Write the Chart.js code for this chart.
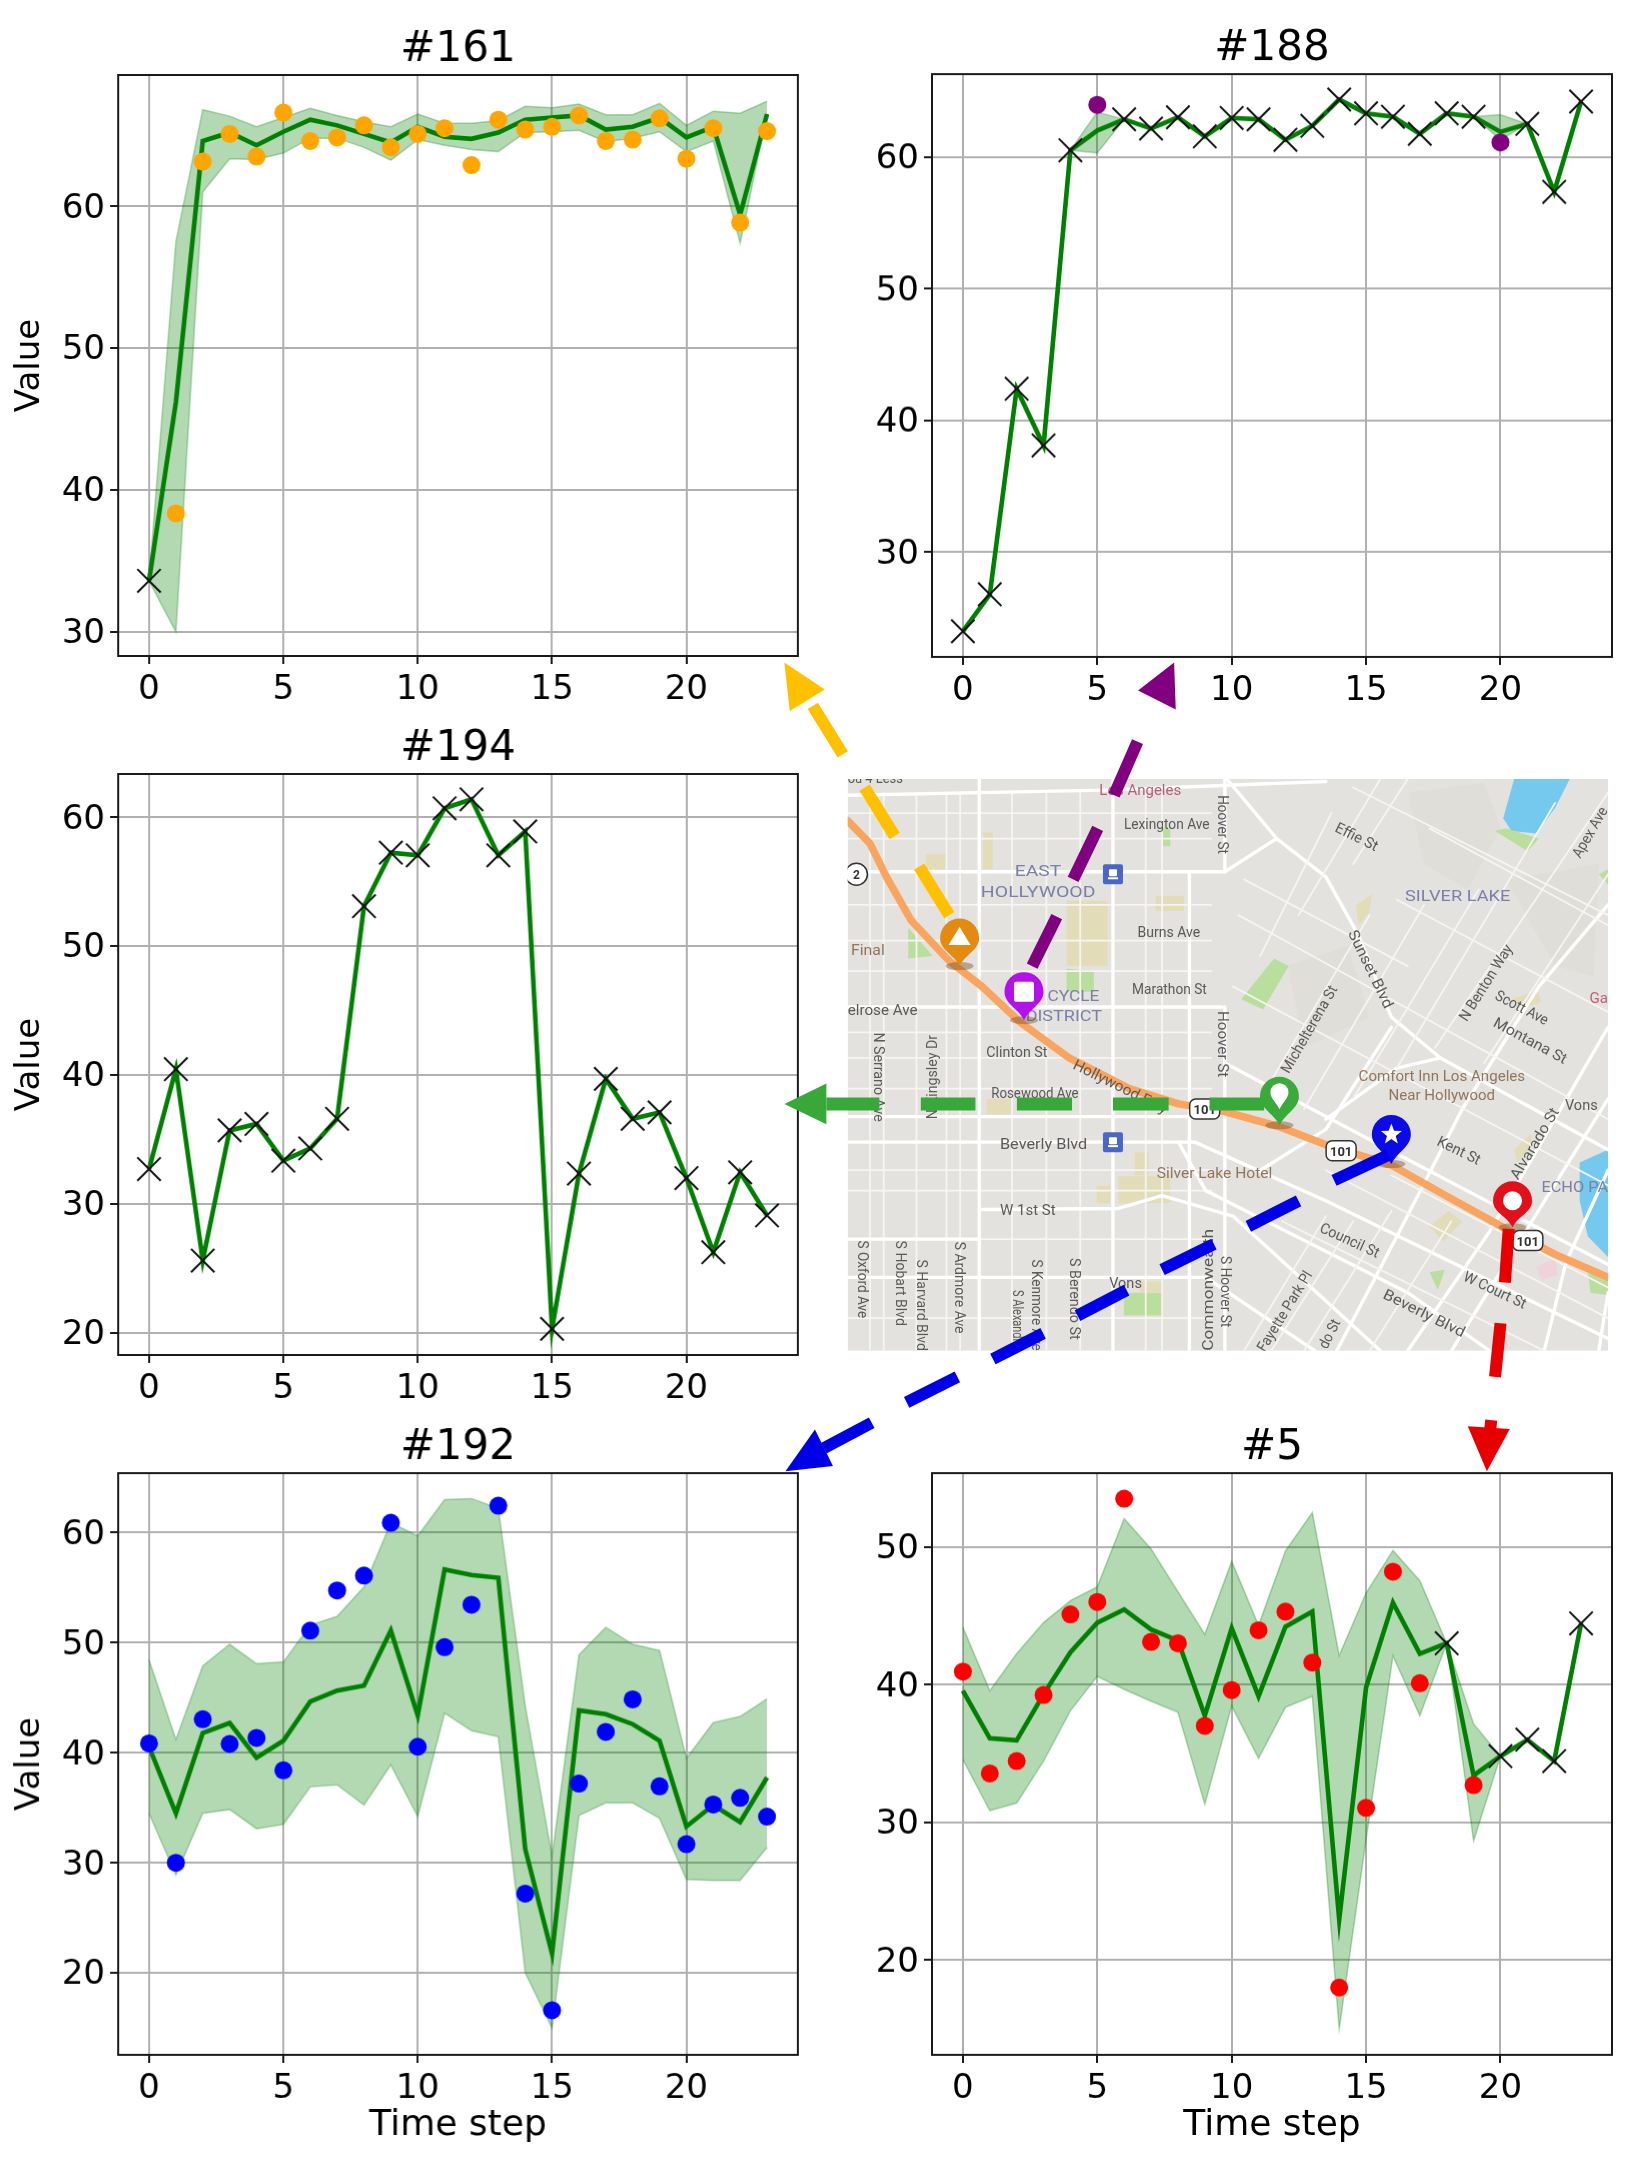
<!DOCTYPE html>
<html><head><meta charset="utf-8">
<style>
html,body{margin:0;padding:0;background:#fff;}
#page{position:relative;width:1636px;height:2167px;overflow:hidden;background:#fff;}
canvas{position:absolute;}
svg{position:absolute;left:0;top:0;}
</style>
<script src="https://cdn.jsdelivr.net/npm/chart.js@4/dist/chart.umd.min.js"></script>
</head><body><div id="page"></div>
<script>
const timeSteps=[0,1,2,3,4,5,6,7,8,9,10,11,12,13,14,15,16,17,18,19,20,21,22,23];
const xTickStep=5, yTickStep=10;
const titles=['#161','#188','#194','#192','#5'];
const xLabel='Time step', yLabel='Value';
const n=null;

const mean161=[33.6,46.2,64.6,65.2,64.3,65.25,66.1,65.7,65.1,64.5,65.6,64.9,64.75,65.2,66.1,66.25,66.4,65.4,65.6,66.25,64.85,65.6,59.4,66.5];
const upper161=[33.6,57.5,66.8,66.35,65.6,66.25,66.9,66.4,65.95,65.6,66.5,65.85,65.85,66.05,67.05,66.95,67.2,66.45,66.45,67.25,65.7,66.7,66.55,67.4];
const lower161=[33.6,30.0,61,63.35,63.3,63.75,64.8,64.8,64.15,63.25,64.7,64.3,64,63.85,65.2,65.25,65.35,64.55,64.8,65.25,63.85,64.6,57.4,66.5];
const dots161=[n,38.35,63.15,65.1,63.5,66.6,64.6,64.85,65.7,64.15,65.1,65.5,62.9,66.1,65.4,65.6,66.4,64.6,64.7,66.2,63.35,65.5,58.85,65.3];
const cross161=[33.6,n,n,n,n,n,n,n,n,n,n,n,n,n,n,n,n,n,n,n,n,n,n,n];

const mean188=[24.0,26.8,42.4,38.1,60.5,62,62.85,62.15,63,61.55,62.95,62.85,61.3,62.35,64.35,63.3,63.05,61.75,63.3,63.05,61.9,62.5,57.35,64.2];
const upper188=[24.0,26.8,42.4,38.1,60.5,63.4,62.85,62.15,63,61.55,62.95,62.85,61.3,62.35,64.35,63.3,63.05,61.75,63.3,63.05,63.2,62.5,57.35,64.2];
const lower188=[24.0,26.8,42.4,38.1,60.5,60.3,62.85,62.15,63,61.55,62.95,62.85,61.3,62.35,64.35,63.3,63.05,61.75,63.3,63.05,61.3,62.5,57.35,64.2];
const dots188=[n,n,n,n,n,63.95,n,n,n,n,n,n,n,n,n,n,n,n,n,n,61.1,n,n,n];
const cross188=[24.0,26.8,42.4,38.1,60.5,n,62.85,62.15,63,61.55,62.95,62.85,61.3,62.35,64.35,63.3,63.05,61.75,63.3,63.05,n,62.5,57.35,64.2];

const mean194=[32.7,40.45,25.6,35.7,36.2,33.35,34.3,36.6,53.1,57.25,57.05,60.7,61.4,57.05,58.9,20.3,32.35,39.7,36.6,37.1,32,26.25,32.45,29.1];
const cross194=mean194.slice();

const mean192=[40.55,34.5,41.8,42.7,39.55,41.1,44.65,45.65,46.1,51.1,43.4,56.65,56.15,55.9,31.25,21.75,43.85,43.5,42.6,41.1,33.3,35.25,33.7,37.75];
const upper192=[48.45,41.2,47.9,49.85,48.1,48.25,51.6,52.4,55.05,60.9,59.7,63,63.1,62.2,44.25,30.6,48.9,51.4,49.85,49.3,39.5,42.75,43.3,44.9];
const lower192=[34.5,28.9,34.5,34.85,33.1,33.5,36.9,37.1,35.25,38.9,34.2,43.6,42,41.45,20,15,34.3,35.45,35.45,34.05,28.5,28.4,28.4,31.4];
const dots192=[40.85,30,43.05,40.8,41.35,38.4,51.1,54.75,56.1,60.9,40.55,49.6,53.45,62.45,27.2,16.6,37.2,41.9,44.85,36.95,31.7,35.3,35.9,34.2];

const mean5=[39.55,36.1,35.95,39.3,42.35,44.5,45.45,44,43.2,37.75,44.1,39.15,44.2,45.3,22.95,39.8,45.95,42.25,43,33.4,34.8,36,34.45,44.45];
const upper5=[44.15,39.55,42.25,44.5,46.1,47.1,52.05,49.85,46.75,43.65,48.95,44.3,49.7,52.5,42.1,46.65,49.75,47.55,43,37.15,34.8,36,34.45,44.45];
const lower5=[34.55,30.85,31.4,34.45,38.1,40.6,39.65,38.8,38,31.3,38.45,34.65,38.35,39.15,15,28.75,42.1,37.75,43,28.65,34.8,36,34.45,44.45];
const dots5=[40.95,33.55,34.45,39.25,45.1,46,53.5,43.1,43,37,39.6,43.95,45.3,41.6,18,31.05,48.2,40.1,n,32.7,n,n,n,n];
const cross5=[n,n,n,n,n,n,n,n,n,n,n,n,n,n,n,n,n,n,43,n,34.8,36,34.45,44.45];

const FONT='"DejaVu Sans"';
const pts=a=>timeSteps.map((x,i)=>({x,y:a[i]}));
const boxPlugin={id:'box',afterDraw(c){const a=c.chartArea,g=c.ctx;g.save();g.strokeStyle='#1a1a1a';g.lineWidth=2;g.strokeRect(a.left,a.top,a.right-a.left,a.bottom-a.top);g.restore();}};

function panel(o){
  const yW=o.yTitle?118:100, titleH=54, xH=o.xTitle?92:60;
  const W=2*yW+(o.R-o.L), H=titleH+(o.B-o.T)+xH;
  const cv=document.createElement('canvas');
  cv.width=W;cv.height=H;cv.style.left=(o.L-yW)+'px';cv.style.top=(o.T-titleH)+'px';cv.style.width=W+'px';cv.style.height=H+'px';
  document.getElementById('page').appendChild(cv);
  const ds=[];
  if(o.upper){
    ds.push({data:pts(o.upper),borderColor:'rgba(0,128,0,0.3)',borderWidth:1.5,backgroundColor:'rgba(0,128,0,0.3)',fill:'+1',pointRadius:0,order:5,tension:0});
    ds.push({data:pts(o.lower),borderColor:'rgba(0,128,0,0.3)',borderWidth:1.5,fill:false,pointRadius:0,order:6,tension:0});
  }
  ds.push({data:pts(o.mean),borderColor:'#008000',borderWidth:4.6,fill:false,pointRadius:0,order:3,tension:0});
  if(o.cross)ds.push({data:pts(o.cross),showLine:false,pointStyle:'crossRot',pointRadius:16.5,pointBorderColor:'#111',pointBorderWidth:2,pointBackgroundColor:'transparent',order:1});
  if(o.dots)ds.push({data:pts(o.dots),showLine:false,pointStyle:'circle',pointRadius:o.r||9,pointBorderWidth:0,pointBackgroundColor:o.color,order:0});
  new Chart(cv,{type:'line',data:{datasets:ds},plugins:[boxPlugin],options:{
    responsive:false,animation:false,devicePixelRatio:1,layout:{padding:0},
    plugins:{legend:{display:false},tooltip:{enabled:false},
      title:{display:true,text:o.title,color:'#000',font:{family:FONT,size:42,weight:'normal',lineHeight:48/42},padding:{top:5,bottom:1}}},
    scales:{
      x:{type:'linear',min:-1.15,max:24.15,afterFit:s=>{s.height=xH;},
        grid:{color:'#b0b0b0',lineWidth:2,tickColor:'#1a1a1a',tickWidth:2,tickLength:8},border:{display:false},
        ticks:{stepSize:xTickStep,includeBounds:false,maxRotation:0,color:'#000',padding:6,font:{family:FONT,size:34},callback:v=>String(v)},
        title:{display:!!o.xTitle,text:xLabel,color:'#000',font:{family:FONT,size:36,lineHeight:1.2},padding:{top:0,bottom:0}}},
      y:{type:'linear',min:o.min,max:o.max,afterFit:s=>{s.width=yW;},
        grid:{color:'#b0b0b0',lineWidth:2,tickColor:'#1a1a1a',tickWidth:2,tickLength:8},border:{display:false},
        ticks:{stepSize:yTickStep,includeBounds:false,labelOffset:2.5,color:'#000',padding:5,font:{family:FONT,size:34},callback:v=>String(v)},
        title:{display:!!o.yTitle,text:yLabel,color:'#000',font:{family:FONT,size:34,lineHeight:1.2},padding:{top:10,bottom:0}}},
      yRightSpacer:{type:'linear',position:'right',afterFit:s=>{s.width=yW;},
        grid:{display:false,drawTicks:false},border:{display:false},ticks:{display:false},title:{display:false}}
    }}});
}
const colL=[118,797.6], colR=[932,1612];
panel({title:titles[0],L:colL[0],R:colL[1],T:75,B:656.3,min:28.3,max:69.25,mean:mean161,upper:upper161,lower:lower161,dots:dots161,cross:cross161,color:'#ffa500',yTitle:true});
panel({title:titles[1],L:colR[0],R:colR[1],T:74.4,B:656.6,min:22.05,max:66.28,mean:mean188,upper:upper188,lower:lower188,dots:dots188,cross:cross188,color:'#800080'});
panel({title:titles[2],L:colL[0],R:colL[1],T:773.9,B:1355.5,min:18.27,max:63.36,mean:mean194,cross:cross194,yTitle:true});
panel({title:titles[3],L:colL[0],R:colL[1],T:1472.9,B:2054.6,min:12.55,max:65.41,mean:mean192,upper:upper192,lower:lower192,dots:dots192,color:'#0000ff',yTitle:true,xTitle:true});
panel({title:titles[4],L:colR[0],R:colR[1],T:1472.9,B:2054.6,min:13.11,max:55.36,mean:mean5,upper:upper5,lower:lower5,dots:dots5,cross:cross5,color:'#ff0000',xTitle:true});

/* ---- decorative map and arrows (an illustration, not chart data) ---- */
const PX=x=>780+x/1.832, PY=y=>660+y/1.96;
const NS='http://www.w3.org/2000/svg';
const svg=document.createElementNS(NS,'svg');
svg.setAttribute('width',1636);svg.setAttribute('height',2167);
document.getElementById('page').appendChild(svg);
function el(tag,attrs,parent,txt){const e=document.createElementNS(NS,tag);for(const k in attrs)e.setAttribute(k,attrs[k]);if(txt!=null)e.textContent=txt;(parent||svg).appendChild(e);return e;}
const defs=el('defs',{});
const cp=el('clipPath',{id:'mapclip'},defs);
el('rect',{x:PX(124),y:PY(233),width:PX(1517)-PX(124),height:PY(1354)-PY(233)},cp);
const map=el('g',{'clip-path':'url(#mapclip)'});
el('rect',{x:PX(124),y:PY(233),width:PX(1517)-PX(124),height:PY(1354)-PY(233),fill:'#e4e2de'},map);
const poly=(a,fill,p)=>el('polygon',{points:a.map(q=>PX(q[0])+','+PY(q[1])).join(' '),fill},p||map);
const line=(a,w,col,p)=>el('polyline',{points:a.map(q=>PX(q[0])+','+PY(q[1])).join(' '),fill:'none',stroke:col,'stroke-width':w,'stroke-linejoin':'round','stroke-linecap':'round'},p||map);
// hills
[[[1150,260],[1290,240],[1320,330],[1260,450],[1180,400]],[[1330,430],[1500,400],[1490,620],[1420,600]],[[930,600],[1040,560],[1080,700],[960,760]]].forEach(a=>poly(a,'#e0ded8'));
// water
poly([[1345,233],[1447,233],[1420,290],[1385,340],[1340,335],[1325,310]],'#76c9ee');
poly([[1465,985],[1517,960],[1517,1170],[1480,1130],[1465,1060]],'#76c9ee');
// parks
[[[235,525],[280,580],[235,585]],[[525,605],[575,610],[575,650],[525,650]],[[845,665],[905,585],[932,600],[885,685]],[[1190,1200],[1218,1195],[1205,1235]],[[630,1240],[700,1240],[700,1285],[630,1285]],[[1310,335],[1330,330],[1390,350],[1370,375]],[[1480,1200],[1517,1215],[1517,1245],[1485,1240]],[[700,330],[715,330],[715,365],[700,365]],[[1500,420],[1517,410],[1517,440]]].forEach(a=>poly(a,'#b9de9e'));
// beige blocks
[[[525,472],[600,472],[600,600],[525,600]],[[268,380],[305,380],[305,410],[268,410]],[[372,338],[390,338],[390,410],[372,410]],[[688,462],[740,462],[740,492],[688,492]],[[378,860],[425,860],[425,890],[378,890]],[[620,1012],[715,1012],[715,1065],[620,1065]],[[1055,480],[1085,458],[1080,495],[1060,520]],[[1190,1110],[1225,1080],[1250,1100],[1215,1140]],[[1345,960],[1375,928],[1378,950],[1350,985]],[[1340,665],[1388,648],[1395,670],[1360,685]],[[580,1030],[605,1030],[605,1065],[580,1065]],[[650,965],[675,965],[675,1010],[650,1010]],[[660,1218],[700,1218],[700,1240],[660,1240]]].forEach(a=>poly(a,'#e3dcb8'));
poly([[1385,1190],[1420,1170],[1425,1205],[1395,1215]],'#efd3dc');
// minor streets
const vMinor=[165,190,250,305,330,425,488,550,670,700];
const hMinor=[300,350,480,550,610,730,780,840,1000,1040,1135,1290];
vMinor.forEach(x=>line([[x,260],[x,1354]],1.8,'#f6f5f2'));
hMinor.forEach(y=>line([[124,y],[790,y]],1.8,'#f6f5f2'));
// main streets
const mainStreets=[
 [[124,265],[600,255],[1000,238]],[[124,415],[815,415]],[[124,680],[810,680]],[[124,895],[760,895]],[[124,945],[760,945]],
 [[370,1077],[620,1075],[700,1050],[830,1090],[1100,1354]],[[124,1135],[365,1135]],[[124,1210],[780,1210],[980,1354]],
 [[365,233],[365,1354]],[[610,233],[610,1354]],[[750,415],[750,1354]],[[815,233],[815,415]],[[815,680],[815,1354]],
 [[815,415],[910,350],[1000,425],[1060,540],[1120,700],[1210,780],[1517,960]],[[820,235],[910,350]],
 [[815,790],[1080,940],[1517,1185]],[[760,945],[1000,1060],[1517,1330]],[[730,945],[780,1040],[1150,1240],[1300,1354]],
 [[1020,1354],[1130,1130],[1250,880],[1390,640],[1517,480]],[[1150,1354],[1300,1120],[1517,720]],[[1230,1354],[1360,1130],[1517,860]],
 [[880,1000],[1000,920],[1120,720]],[[1000,900],[1130,800],[1210,780]],[[1400,1354],[1440,1180],[1517,1000]],[[1500,1354],[1517,1240]]];
mainStreets.forEach(a=>line(a,3.4,'#ffffff'));
// diagonal minor streets
const diagDown=[[830,640,1517,1030],[840,500,1517,900],[850,430,1150,600],[1130,470,1517,690],[1190,330,1517,520],[1050,250,1517,500],[1000,1000,1517,1290],[920,1100,1400,1354],[1120,1010,1517,1230]];
const diagUp=[[880,860,1080,500],[960,880,1180,480],[1050,860,1280,450],[1130,800,1420,280],[1200,760,1517,260],[1290,790,1517,420],[900,1354,1050,1100],[960,1354,1120,1080],[1080,1354,1230,1100],[850,1354,1000,1090],[880,580,1010,300],[950,500,1100,233],[1050,400,1150,233]];
diagDown.concat(diagUp).forEach(s=>line([[s[0],s[1]],[s[2],s[3]]],1.8,'#f6f5f2'));
// highway
line([[124,315],[165,360],[195,425],[240,510],[310,590],[370,640],[440,710],[530,780],[640,840],[730,870],[815,885],[915,915],[1000,950],[1120,990],[1220,1050],[1330,1115],[1420,1165],[1517,1210]],7.5,'#f9a560');
// labels: text, start x,y, end x,y, colour
const gr='#5a5a5a', vi='#7a80a8', br='#93755c';
const mapLabels=[
['ou 4 Less',124,242,225,242,gr],['Los Angeles',585,264,735,264,'#b4607a'],['Lexington Ave',630,332,787,332,gr],['Hoover St',803,265,803,380,gr],
['Effie St',1015,335,1090,375,gr],['Apex Ave',1466,390,1517,295,gr],['SILVER LAKE',1145,472,1338,472,vi],['EAST',430,424,515,424,vi],['HOLLYWOOD',368,464,578,464,vi],
['Burns Ave',655,543,770,543,gr],['Marathon St',645,655,782,655,gr],['Final',130,578,192,578,br],['CYCLE',490,669,585,669,vi],['DISTRICT',450,708,590,708,vi],
['elrose Ave',124,695,252,695,gr],['N Serrano Ave',172,730,172,905,gr],['N Kingsley Dr',288,900,288,735,gr],['Clinton St',378,778,490,778,gr],['Rosewood Ave',387,858,547,858,gr],
['Hollywood Fwy',535,800,705,890,gr],['Hoover St',803,688,803,818,gr],['Michelterena St',932,812,1022,645,gr],['Sunset Blvd',1040,535,1108,685,gr],['N Benton Way',1258,710,1343,565,gr],
['Scott Ave',1308,664,1402,716,gr],['Montana St',1305,717,1436,792,gr],['Ga',1483,673,1517,673,'#c0607a'],['Comfort Inn Los Angeles',1060,826,1365,826,br],['Near Hollywood',1115,863,1310,863,br],
['Vons',1438,882,1498,882,gr],['Alvarado St',1352,1020,1428,885,gr],['Kent St',1202,950,1278,990,gr],['Beverly Blvd',403,958,563,958,gr],['Silver Lake Hotel',690,1015,902,1015,br],
['W 1st St',403,1087,505,1087,gr],['Council St',987,1120,1093,1172,gr],['ECHO PA',1395,1042,1517,1042,vi],['W Court St',1250,1215,1362,1272,gr],['Beverly Blvd',1103,1250,1250,1328,gr],
['S Oxford Ave',143,1138,143,1290,gr],['S Hobart Blvd',213,1138,213,1305,gr],['S Harvard Blvd',251,1175,251,1354,gr],['S Ardmore Ave',321,1140,321,1320,gr],['S Kenmore Ave',461,1175,461,1354,gr],
['S Alexandria',426,1235,426,1354,gr],['S Berendo St',531,1172,531,1332,gr],['Vons',603,1230,663,1230,gr],['Commonwealth',793,1354,793,1115,gr],['S Hoover St',808,1168,808,1308,gr],
['Fayette Park Pl',888,1358,976,1205,gr],['do St',1002,1352,1027,1298,gr]];
mapLabels.forEach(l=>{
  const x1=PX(l[1]),y1=PY(l[2]),x2=PX(l[3]),y2=PY(l[4]);
  const ang=Math.atan2(y2-y1,x2-x1)*180/Math.PI, len=Math.hypot(x2-x1,y2-y1);
  el('text',{x:0,y:0,transform:`translate(${x1} ${y1}) rotate(${ang})`,'font-family':'Roboto','font-size':15,fill:l[5],textLength:len,lengthAdjust:'spacingAndGlyphs'},map,l[0]);
});
// shields
[[778,880],[1028,962],[1370,1138]].forEach(c=>{
  el('rect',{x:PX(c[0])-15,y:PY(c[1])-10,width:30,height:20,rx:6,fill:'#fff',stroke:'#333','stroke-width':1.5},map);
  el('text',{x:PX(c[0]),y:PY(c[1])+5,'text-anchor':'middle','font-family':'Roboto','font-weight':'bold','font-size':13,fill:'#333'},map,'101');
});
el('circle',{cx:PX(140),cy:PY(420),r:11,fill:'#fff',stroke:'#333','stroke-width':1.5},map);
el('text',{x:PX(140),y:PY(420)+5,'text-anchor':'middle','font-family':'Roboto','font-weight':'bold','font-size':12,fill:'#333'},map,'2');
[[610,420],[610,945]].forEach(c=>{
  el('rect',{x:PX(c[0])-10,y:PY(c[1])-10,width:20,height:20,rx:2,fill:'#4a66c8'},map);
  el('rect',{x:PX(c[0])-4,y:PY(c[1])-5,width:8,height:7,rx:1,fill:'#fff'},map);
  el('rect',{x:PX(c[0])-5,y:PY(c[1])+3,width:10,height:2,fill:'#fff'},map);
});
// pins
function pin(cx,cy,tipy,col,kind){
  const x=PX(cx),y=PY(cy),t=PY(tipy),r=19.5;
  el('ellipse',{cx:x,cy:t,rx:14,ry:4,fill:'rgba(110,70,30,0.4)'},map);
  el('path',{d:`M${x} ${t} C${x-6} ${t-12} ${x-r} ${y+12} ${x-r} ${y} A${r} ${r} 0 1 1 ${x+r} ${y} C${x+r} ${y+12} ${x+6} ${t-12} ${x} ${t} Z`,fill:col},map);
  if(kind==='tri')el('polygon',{points:`${x},${y-11} ${x+11},${y+7} ${x-11},${y+7}`,fill:'#fff'},map);
  if(kind==='sq')el('rect',{x:x-10,y:y-10,width:20,height:20,rx:2,fill:'#fff'},map);
  if(kind==='drop')el('path',{d:`M${x} ${y+13} C${x-4} ${y+5} ${x-9} ${y+2} ${x-9} ${y-4} A9 9 0 1 1 ${x+9} ${y-4} C${x+9} ${y+2} ${x+4} ${y+5} ${x} ${y+13} Z`,fill:'#fff'},map);
  if(kind==='circ')el('circle',{cx:x,cy:y,r:9.5,fill:'#fff'},map);
  if(kind==='star'){const p=[];for(let i=0;i<10;i++){const a=-Math.PI/2+i*Math.PI/5,rr=i%2?4.6:11;p.push((x+rr*Math.cos(a))+','+(y+rr*Math.sin(a)));}el('polygon',{points:p.join(' '),fill:'#fff'},map);}
}
pin(329,545,600,'#e58a10','tri');
pin(447,650,706,'#b310ea','sq');
pin(915,855,912,'#3aaa3a','drop');
pin(1120,930,988,'#0b0be6','star');
pin(1342,1060,1112,'#e3101c','circ');
// arrows
const arrows=[
 {col:'#ffc000',w:12,dash:[[[60,90],[115,185]],[[155,250],[210,345]],[[255,405],[310,500]]],head:[[8,5],[82,58],[18,100]]},
 {col:'#800080',w:12,dash:[[[655,160],[612,265]],[[582,330],[537,430]],[[507,503],[462,600]]],head:[[722,5],[656,60],[725,97]]},
 {col:'#38a838',w:13,dash:[[[85,870],[182,870]],[[258,870],[358,870]],[[434,870],[535,870]],[[610,870],[712,870]],[[787,870],[887,870]]],head:[[8,870],[85,830],[85,910]]},
 {col:'#0000e6',w:12,dash:[[[1115,970],[1015,1020]],[[950,1060],[858,1110]],[[795,1145],[700,1195]],[[635,1235],[545,1285]],[[482,1320],[390,1370]],[[325,1405],[232,1455]],[[168,1495],[80,1545]]],head:[[10,1590],[64,1508],[97,1580]]},
 {col:'#e60000',w:12,dash:[[[1335,1115],[1328,1220]],[[1320,1300],[1310,1405]],[[1303,1490],[1300,1520]]],head:[[1260,1502],[1337,1507],[1295,1590]]}];
arrows.forEach(a=>{
  a.dash.forEach(d=>el('line',{x1:PX(d[0][0]),y1:PY(d[0][1]),x2:PX(d[1][0]),y2:PY(d[1][1]),stroke:a.col,'stroke-width':a.w}));
  el('polygon',{points:a.head.map(q=>PX(q[0])+','+PY(q[1])).join(' '),fill:a.col});
});
</script></body></html>
